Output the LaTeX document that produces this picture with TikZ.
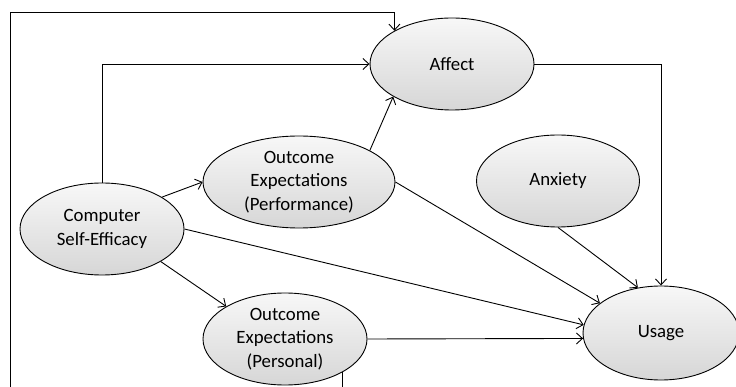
\documentclass[tikz,border=0pt]{standalone}
\usepackage{fontspec}
\setmainfont{Carlito}
\usetikzlibrary{shapes.geometric,arrows.meta}
\begin{document}
\begin{tikzpicture}[x=1pt,y=-1pt,
  ell/.style={ellipse,draw=black,line width=0.9pt,top color=gray!6,bottom color=gray!32,
    inner sep=0pt,align=center,font=\fontsize{18.8}{23.5}\selectfont},
  conn/.style={line width=0.9pt,-{Straight Barb[length=6pt,width=11pt,line width=0.9pt]}}]
\clip (0,0) rectangle (736,387);
\fill[white] (0,0) rectangle (736,387);
\node[ell,minimum width=164pt,minimum height=92pt] (affect) at (452,64) {Affect};
\node[ell,minimum width=163pt,minimum height=92pt] (anx) at (558,181) {Anxiety};
\node[ell,minimum width=156pt,minimum height=94pt] (usage) at (661,333) {Usage};
\node[ell,minimum width=192pt,minimum height=92pt] (perf) at (299,182) {Outcome\\Expectations\\(Performance)};
\node[ell,minimum width=164pt,minimum height=92pt] (cse) at (102,229) {Computer\\Self-Efficacy};
\node[ell,minimum width=164pt,minimum height=92pt] (pers) at (285,339) {Outcome\\Expectations\\(Personal)};
\coordinate (bl) at (10,395);
\coordinate (tl) at (10,12);
% outer loop
\draw[conn] (pers.-30) -- (pers.-30 |- bl) -- (bl) -- (tl) -- (tl -| affect.150) -- (affect.150);
% CSE -> Affect
\draw[conn] (cse.north) |- (affect.west);
% Perf -> Affect
\draw[conn] (perf.24) -- (affect.209);
% Affect -> Usage
\draw[conn] (affect.east) -| (usage.north);
% Anxiety -> Usage
\draw[conn] (anx.south) -- (usage.117);
% Perf -> Usage
\draw[conn] (perf.east) -- (usage.154);
% CSE -> Usage
\draw[conn] (cse.east) -- (usage.174);
% Personal -> Usage
\draw[conn] (pers.east) -- (usage.184);
% CSE -> Perf
\draw[conn] (cse.28) -- (perf.west);
% CSE -> Personal
\draw[conn] (cse.-29) -- (pers.151);
\end{tikzpicture}
\end{document}
